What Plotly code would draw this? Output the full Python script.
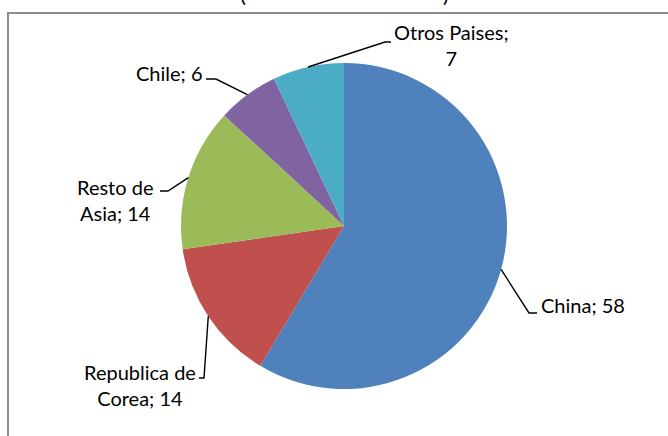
import math
import plotly.graph_objects as go

# ---- data ----
categories = ["China", "Republica de Corea", "Resto de Asia", "Chile", "Otros Paises"]
values = [58, 14, 14, 6, 7]
wrapped_names = ["China", "Republica de<br>Corea", "Resto de<br>Asia", "Chile", "Otros Paises"]
separators = ["; ", "; ", "; ", "; ", ";<br>"]
colors = ["#4F81BD", "#C0504D", "#9BBB59", "#8064A2", "#4BACC6"]

W, H = 668, 436
CX, CY, R = 344, 226, 163  # pie centre / radius in pixels


def px(x):
    return x / W


def py(y):
    return 1 - y / H


fig = go.Figure(go.Pie(
    labels=categories,
    values=values,
    marker=dict(colors=colors, line=dict(width=0)),
    sort=False,
    direction="clockwise",
    rotation=0,
    textinfo="none",
    hoverinfo="label+value",
    showlegend=False,
    domain=dict(x=[px(CX - R), px(CX + R)], y=[py(CY + R), py(CY - R)]),
))

# label layout (elbow point, end point, text anchor)
label_layout = [
    dict(elbow=(529, 313), end=(537, 313), tx=539, ty=305, xanchor="left", align="left"),
    dict(elbow=(204, 378), end=(199, 378), tx=140, ty=385, xanchor="center", align="center"),
    dict(elbow=(168, 191), end=(160, 191), tx=115, ty=200, xanchor="center", align="center"),
    dict(elbow=(216, 79), end=(206, 79), tx=169, ty=73, xanchor="center", align="center"),
    dict(elbow=(385, 42), end=(391, 42), tx=451, ty=45, xanchor="center", align="center"),
]

total = sum(values)
cum = 0
shapes = []
annotations = []
for name, sep, v, lay in zip(wrapped_names, separators, values, label_layout):
    mid = (cum + v / 2) / total * 2 * math.pi
    cum += v
    ex = CX + R * math.sin(mid)
    ey = CY - R * math.cos(mid)
    path = "M {} {} L {} {} L {} {}".format(
        px(ex), py(ey), px(lay["elbow"][0]), py(lay["elbow"][1]),
        px(lay["end"][0]), py(lay["end"][1]))
    shapes.append(dict(type="path", xref="paper", yref="paper", path=path,
                       line=dict(color="black", width=1.4)))
    annotations.append(dict(
        x=px(lay["tx"]), y=py(lay["ty"]), xref="paper", yref="paper",
        text=f"{name}{sep}{v}", showarrow=False, xanchor=lay["xanchor"],
        yanchor="middle", align=lay["align"],
        font=dict(family="Lato", size=20, color="black")))

# chart area border (extends past the right/bottom edge)
shapes.append(dict(type="rect", xref="paper", yref="paper",
                   x0=px(8), x1=px(W + 10), y0=py(H + 10), y1=py(13),
                   line=dict(color="#8C8C8C", width=2), fillcolor="rgba(0,0,0,0)",
                   layer="below"))

# clipped title remnants
for tx in (243, 446):
    annotations.append(dict(x=px(tx), y=py(9), xref="paper", yref="paper",
                            text="(" if tx < 300 else ")", showarrow=False,
                            xanchor="center", yanchor="bottom",
                            font=dict(family="Lato", size=22, color="black")))

fig.update_layout(
    width=W, height=H,
    margin=dict(l=0, r=0, t=0, b=0),
    paper_bgcolor="white",
    plot_bgcolor="white",
    shapes=shapes,
    annotations=annotations,
)

fig.write_html("out.html", config={"displayModeBar": False},
               post_script="document.body.style.margin='0';")
